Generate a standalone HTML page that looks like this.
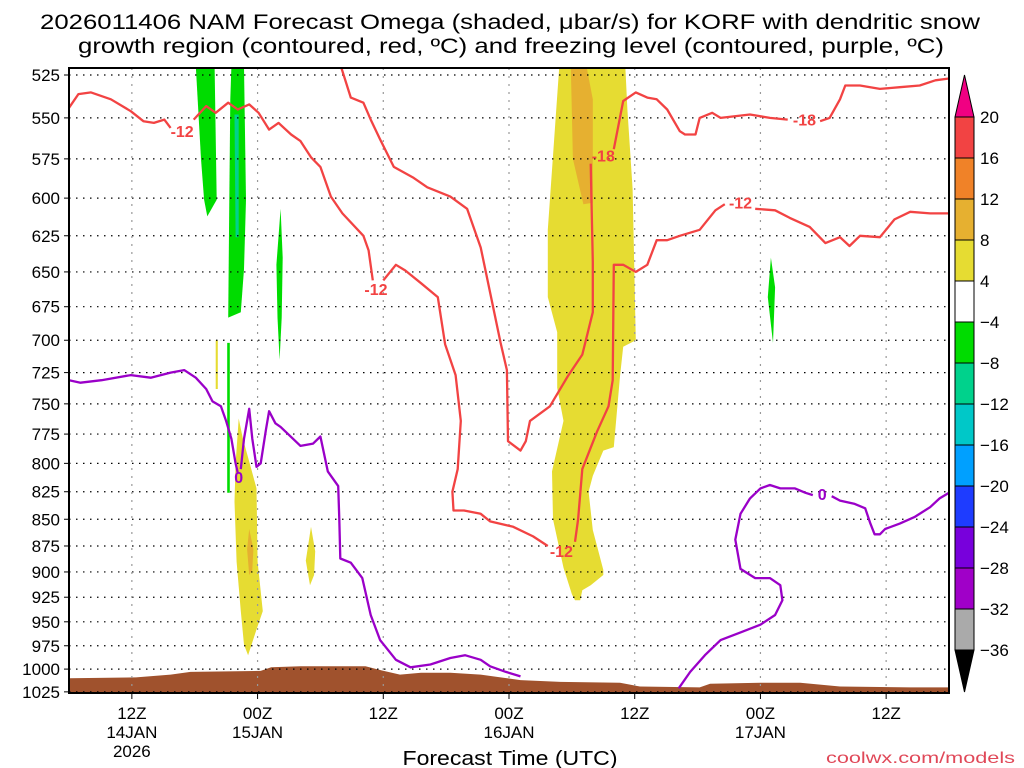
<!DOCTYPE html>
<html><head><meta charset="utf-8">
<style>
body{margin:0;background:#fff;}
svg{display:block;font-family:"Liberation Sans",sans-serif;}
</style></head>
<body>
<svg id="chart" width="1024" height="768" viewBox="0 0 1024 768">
<defs><clipPath id="plotclip"><rect x="69" y="68" width="880" height="625"/></clipPath></defs>
<text x="510" y="29" font-size="21" text-anchor="middle" textLength="940" lengthAdjust="spacingAndGlyphs">2026011406 NAM Forecast Omega (shaded, μbar/s) for KORF with dendritic snow</text>
<text x="511" y="53" font-size="21" text-anchor="middle" textLength="866" lengthAdjust="spacingAndGlyphs">growth region (contoured, red, ºC) and freezing level (contoured, purple, ºC)</text>
<g id="shade" clip-path="url(#plotclip)"></g>
<g id="grid"></g>
<g id="lines" clip-path="url(#plotclip)"></g>
<g id="axes"></g>
<g id="cbar"></g>
<text x="510" y="765" font-size="20" text-anchor="middle" textLength="215" lengthAdjust="spacingAndGlyphs">Forecast Time (UTC)</text>
<text x="1015" y="763" font-size="16" text-anchor="end" textLength="189" lengthAdjust="spacingAndGlyphs" fill="#e04858">coolwx.com/models</text>
</svg>
<script>
const pressureTicks=[525,550,575,600,625,650,675,700,725,750,775,800,825,850,875,900,925,950,975,1000,1025];
const timeTicks=[6,18,30,42,54,66,78];
const timeTickLabels=[["12Z","14JAN","2026"],["00Z","15JAN"],["12Z"],["00Z","16JAN"],["12Z"],["00Z","17JAN"],["12Z"]];
const cbarLevels=["20","16","12","8","4","-4","-8","-12","-16","-20","-24","-28","-32","-36"];
const cbarColors=["#f24343","#f08228","#e6b030","#e6dc32","#ffffff","#00dc00","#00d28c","#00c8c8","#00a0ff","#1e3cff","#7800dc","#a000c8","#aaaaaa"];
// terrain surface pressure [hour, hPa]
const terrain=[[0,1010],[6.4,1009],[9.7,1006],[11.6,1003],[18.3,1002],[19.3,998],[22.1,997],[28.3,997],[29.7,1001],[31.6,1006],[33.6,1004],[36.4,1004],[39.3,1006],[41.2,1009],[43.1,1012],[46.9,1014],[52.6,1015],[54.5,1019],[60.2,1020],[61.2,1016],[66,1015],[69.8,1015],[73.6,1019],[80.3,1020],[84,1020]];
// shaded omega regions [hour, hPa]
const yellowMain=[[46.8,520],[46.2,573],[45.7,621],[45.7,668],[46.6,694],[46.6,737],[47.2,764],[46.1,807],[46.2,850],[47.2,896],[48,922],[48.3,928],[48.8,928],[49,918],[49.8,913],[51,903],[51,898],[50,860],[49.6,825],[50,811],[51,789],[52,786],[52.6,728],[52.9,705],[54.1,700],[53.8,594],[53.3,545],[53.1,520]];
const orangeMain=[[47.9,520],[49.4,520],[50,539],[50,603],[49.1,604],[48.1,575]];
const yellowB=[[16.2,762],[16.6,779],[17.4,805],[17.9,822],[18,890],[18.5,939],[17.9,958],[17.1,985],[16.7,974],[16.4,939],[16,890],[15.8,834],[15.9,800]];
const orangeB=[[17.2,859],[17.6,878],[17.5,898],[17.2,903],[17,878]];
const yellowC=[[23.1,857],[23.5,880],[23.4,903],[23,913],[22.6,889]];
const yellowD=[[14,700],[14.2,700],[14.2,738],[14,738]];
const greenA=[[12.1,520],[13.9,520],[14.1,601],[13.2,612],[12.9,601],[12.6,575]];
const greenB=[[15.5,520],[16.7,520],[16.9,601],[16.7,648],[16.4,679],[15.2,683],[15.3,601],[15.4,539]];
const tealB=[[15.8,548],[16.2,548],[16.2,626],[15.9,626]];
const greenC=[[20.2,607],[20.4,640],[20.3,683],[20.1,715],[19.9,683],[19.8,645]];
const greenD=[[15.1,702],[15.35,702],[15.35,826],[15.1,826]];
const greenE=[[67,640],[67.4,661],[67.2,702],[66.7,668]];
// red -12 / -18 contours
const red12a=[[0,544],[0.9,536],[2.1,535],[4,539],[5.9,546],[7.1,552],[8.1,553],[9.1,551],[9.7,556]];
const red12b=[[11.9,551],[13.1,543],[14,547],[15.2,541],[16.1,545],[17.2,542],[18.1,547],[19.1,557],[20,553],[21.2,560],[22.1,564],[23.1,574],[24,580],[25,599],[26.1,610],[28.1,625],[28.6,635],[29,656]];
const red12c=[[30,656],[31.2,645],[32.1,649],[33.6,658],[35.2,668],[35.9,703],[36.9,727],[37.4,764],[37.1,805],[36.6,825],[36.7,842],[37.7,842],[39.3,845],[40.2,852],[42.4,857],[44.3,866],[45.7,875]];
const red12d=[[48.3,871],[48.6,850],[49,805],[50.4,773],[51.5,752],[51.9,731],[52,645],[52.9,645],[54.1,650],[55.2,645],[56.1,628],[57.1,628],[58.3,625],[60.2,621],[61.7,608],[62.6,604]];
const red12e=[[65.5,607],[67.4,608],[68.8,613],[70.7,619],[72.2,630],[73.6,626],[74.5,632],[75.5,625],[77.4,626],[78.8,614],[80.3,609],[82.2,610],[84,610]];
const red18a=[[25.9,519],[26.9,538],[28.1,541],[28.8,551],[29.7,563],[31,580],[32.9,587],[34.2,593],[36.4,599],[38,607],[39.3,633],[39.9,654],[41.2,702],[41.8,723],[41.9,781],[43.1,789],[43.6,781],[44,764],[45.9,752],[47.6,728],[49,711],[50,679],[50,643],[49.8,578]];
const red18b=[[52,569],[52.9,540],[54.1,535],[55.2,538],[56.1,539],[57.1,545],[58.3,558],[58.8,560],[59.8,560],[60.2,550],[61.4,547],[62.2,550],[65,548],[66.9,550],[68.6,551]];
const red18c=[[71.7,552],[72.6,550],[73.6,539],[74.1,531],[75.5,531],[77.4,533],[79.3,532],[81.2,531],[82.7,528],[84,527]];
// purple freezing level (0 C)
const frzA=[[0,731],[1.1,733],[3.1,731],[5.9,727],[7.8,729],[9.7,725],[11,723],[12.1,729],[13.1,738],[13.7,748],[14.5,752],[15,764],[15.5,779],[15.9,800],[16.1,808]];
const frzB=[[16.4,805],[16.7,779],[17.2,754],[17.5,779],[17.9,803],[18.3,800],[18.8,771],[19.1,756],[19.7,766],[20.2,769],[22.1,785],[23.3,783],[24,777],[24.7,807],[25.7,820],[25.8,850],[25.9,887],[26.9,891],[28,906],[28.8,943],[29.7,969],[31.2,990],[32.6,998],[34.5,995],[36.4,988],[37.8,985],[39.3,990],[40.2,997],[41.7,1003],[43.1,1008]];
const frzC=[[58.2,1021],[59.3,1003],[60.7,985],[62.2,969],[64.1,961],[66,953],[67.4,943],[68.1,928],[67.9,913],[66.9,906],[65.5,906],[64.1,897],[63.6,869],[64.1,845],[65,831],[66,822],[66.9,819],[67.9,822],[69.3,822],[70.3,826],[71,828]];
const frzD=[[72.8,829],[73.6,833],[75,836],[76,840],[76.5,854],[76.9,864],[77.4,864],[77.9,859],[79.3,854],[80.7,848],[82.2,839],[83.1,831],[84,826]];
const contourLabels=[["-12",10.8,558,"#f24343"],["-12",29.3,662,"#f24343"],["-12",47,880,"#f24343"],["-12",64.1,603,"#f24343"],["-18",51,573,"#f24343"],["-18",70.2,551,"#f24343"],["0",16.2,812,"#9a00c8"],["0",71.9,827,"#9a00c8"]];

const X0=69,X1=949,HOURS=84;
function xs(h){return X0+h*(X1-X0)/HOURS;}
function ys(p){return 75+922*Math.log(p/525);}
const NS="http://www.w3.org/2000/svg";
function mk(tag,attrs,parent){const e=document.createElementNS(NS,tag);for(const k in attrs)e.setAttribute(k,attrs[k]);parent.appendChild(e);return e;}
function pts(arr){return arr.map(d=>xs(d[0]).toFixed(1)+","+ys(d[1]).toFixed(1)).join(" ");}
const shade=document.getElementById('shade'),grid=document.getElementById('grid'),lines=document.getElementById('lines'),axes=document.getElementById('axes'),cbar=document.getElementById('cbar');

function poly(arr,fill,name){const e=mk('polygon',{points:pts(arr),fill:fill},shade);

}
poly(yellowMain,"#e6dc32","omega-yellow-main");
poly(orangeMain,"#e6b030","omega-orange-main");
poly(yellowB,"#e6dc32","omega-yellow-15jan");
poly(orangeB,"#e6b030","omega-orange-15jan");
poly(yellowC,"#e6dc32","omega-yellow-small");
poly(yellowD,"#e6dc32","omega-yellow-sliver");
poly(greenA,"#00dc00","omega-green-a");
poly(greenB,"#00dc00","omega-green-b");
poly(tealB,"#00d28c","omega-teal-b");
poly(greenC,"#00dc00","omega-green-c");
poly(greenD,"#00dc00","omega-green-d");
poly(greenE,"#00dc00","omega-green-e");
// terrain
const terr=terrain.concat([[84,1040],[0,1040]]);
const tp=mk('polygon',{points:pts(terr),fill:"#a0522d"},shade);



// grid
pressureTicks.forEach(p=>{const y=ys(p);
const l=mk('line',{x1:X0,x2:X1,y1:y,y2:y,stroke:"#000","stroke-width":1.2,"stroke-dasharray":"1.5,5.5"},grid);


const t=mk('text',{x:60,y:y+6,"font-size":17,"text-anchor":"end",fill:"#000"},axes);t.textContent=p;


mk('line',{x1:X0-5,x2:X0,y1:y,y2:y,stroke:"#000"},axes);
});
timeTicks.forEach((h,i)=>{const x=xs(h);
const l=mk('line',{x1:x,x2:x,y1:68,y2:692,stroke:"#999","stroke-width":1.2,"stroke-dasharray":"2,6"},grid);


mk('line',{x1:x,x2:x,y1:693,y2:699,stroke:"#000"},axes);
timeTickLabels[i].forEach((s,j)=>{const t=mk('text',{x:x,y:719+j*19,"font-size":17,"text-anchor":"middle"},axes);t.textContent=s;

});
});
const fr=mk('rect',{x:X0,y:68,width:X1-X0,height:625,fill:"none",stroke:"#000","stroke-width":2},axes);



function pl(arr,color,name){const e=mk('polyline',{points:pts(arr),fill:"none",stroke:color,"stroke-width":2.3,"stroke-linejoin":"round"},lines);

}
[red12a,red12b,red12c,red12d,red12e].forEach(a=>pl(a,"#f24343","dgz-minus12-contour"));
[red18a,red18b,red18c].forEach(a=>pl(a,"#f24343","dgz-minus18-contour"));
[frzA,frzB,frzC,frzD].forEach(a=>pl(a,"#9a00c8","freezing-level-contour"));
contourLabels.forEach(c=>{const t=mk('text',{x:xs(c[1]),y:ys(c[2])+6,"font-size":16,"font-weight":"bold","text-anchor":"middle",fill:c[3]},lines);t.textContent=c[0];

});

// colorbar
const CX=955,CW=19,CT=117,CH=41;
const tri1=mk('polygon',{points:`${CX},${CT} ${CX+CW},${CT} ${CX+CW/2},${CT-42}`,fill:"#f00082",stroke:"#000"},cbar);


cbarColors.forEach((c,i)=>{const r=mk('rect',{x:CX,y:CT+i*CH,width:CW,height:CH,fill:c,stroke:"#000","stroke-width":1},cbar);

});
const yb=CT+cbarColors.length*CH;
const tri2=mk('polygon',{points:`${CX},${yb} ${CX+CW},${yb} ${CX+CW/2},${yb+42}`,fill:"#000",stroke:"#000"},cbar);


cbarLevels.forEach((s,i)=>{const t=mk('text',{x:980,y:CT+i*CH+6,"font-size":17},cbar);t.textContent=s.replace('-','\u2212');

});
</script>
</body></html>
